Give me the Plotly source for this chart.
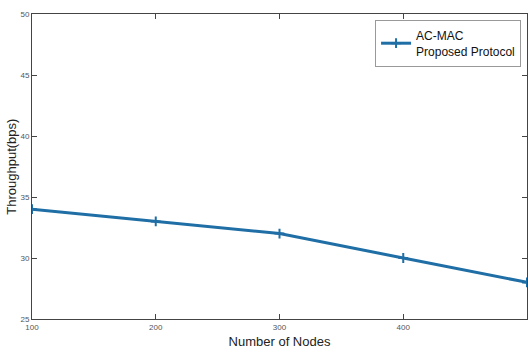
import plotly.graph_objects as go

nodes = [100, 200, 300, 400, 500]
throughput = [34, 33, 32, 30, 28]
series_name = "AC-MAC<br>Proposed Protocol"
x_ticks = [100, 200, 300, 400, 500]
y_ticks = [25, 30, 35, 40, 45, 50]

fig = go.Figure()
fig.add_trace(go.Scatter(
    x=nodes, y=throughput, mode="lines+markers", name=series_name,
    line=dict(color="#1f6ea5", width=3),
    marker=dict(symbol="cross-thin", size=7, line=dict(color="#1f6ea5", width=2)),
    showlegend=True,
))

axis_common = dict(
    showgrid=False, zeroline=False, showline=True, linecolor="#444", linewidth=1,
    mirror="ticks", ticks="inside", ticklen=5, tickcolor="#444", automargin=False,
    tickfont=dict(family="Liberation Sans", size=8, color="#555"),
)
fig.update_xaxes(range=[100, 500], tickvals=x_ticks,
                 title=dict(text="Number of Nodes", font=dict(family="Liberation Sans", size=13, color="#222"), standoff=6),
                 **axis_common)
fig.update_yaxes(range=[25, 50], tickvals=y_ticks, **axis_common)

fig.add_annotation(text="Throughput(bps)", xref="paper", yref="paper",
                   x=-0.042, y=0.5, textangle=-90, showarrow=False,
                   xanchor="center", yanchor="middle",
                   font=dict(family="Liberation Sans", size=13, color="#222"))

fig.update_layout(
    width=528, height=354,
    margin=dict(l=32, r=1, t=14, b=35),
    plot_bgcolor="white", paper_bgcolor="white",
    legend=dict(x=0.988, y=0.98, xanchor="right", yanchor="top",
                bgcolor="white", bordercolor="#999", borderwidth=1,
                font=dict(family="Liberation Sans", size=12, color="#111")),
)

fig.write_html("out.html")
